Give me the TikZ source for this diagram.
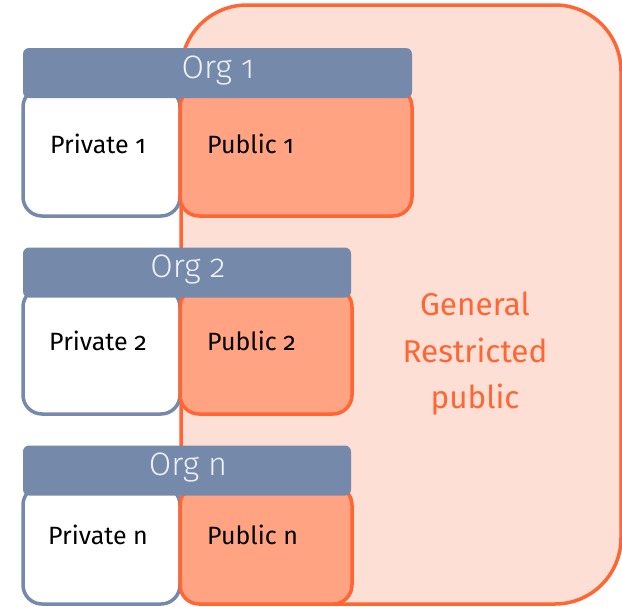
\documentclass[tikz,border=0pt]{standalone}
\usepackage{fontspec}
\setmainfont{Fira Sans}[Numbers=OldStyle]
\newfontfamily\orgfont{Fira Sans Light}[Numbers=OldStyle]
\definecolor{slate}{HTML}{7589AB}
\definecolor{orangeline}{HTML}{FF6633}
\definecolor{pubfill}{HTML}{FFA382}
\definecolor{bigfill}{HTML}{FDDFD5}
\definecolor{orgtext}{HTML}{EEF0F5}
\tikzset{
  box/.style={draw, line width=3.5pt, inner sep=0pt, outer sep=0pt, rounded corners=19pt},
  privbox/.style={box, draw=slate, fill=white, minimum width=157pt},
  pubbox/.style={box, draw=orangeline, fill=pubfill},
  header/.style={fill=slate, inner sep=0pt, outer sep=0pt, rounded corners=6pt, minimum height=50pt},
  lbl/.style={font=\fontsize{25}{30}\selectfont, text=black, inner sep=0pt},
  orglbl/.style={font=\orgfont\fontsize{32.5}{36}\selectfont, text=orgtext, inner sep=0pt},
  biglbl/.style={font=\fontsize{31.5}{46}\selectfont, text=orangeline, inner sep=0pt, align=center},
}
\begin{document}
\begin{tikzpicture}[x=1pt,y=-1pt]
\useasboundingbox (0,0) rectangle (622,606);
% general restricted public area
\node[draw=orangeline, fill=bigfill, line width=3.5pt, inner sep=0pt, rounded corners=66pt,
      minimum width=440pt, minimum height=599pt] (general) at (401,304.5) {};
% Org 1
\node[privbox, minimum height=128pt] (priv1) at (101.5,152) {};
\node[pubbox, minimum width=232pt, minimum height=128pt] (pub1) at (296,152) {};
\node[header, minimum width=389pt] (org1) at (217.5,73) {};
% Org 2
\node[privbox, minimum height=126pt] (priv2) at (101.5,351) {};
\node[pubbox, minimum width=172pt, minimum height=126pt] (pub2) at (266,351) {};
\node[header, minimum width=328pt] (org2) at (187,272.5) {};
% Org n
\node[privbox, minimum height=118pt] (privn) at (101.5,545) {};
\node[pubbox, minimum width=172pt, minimum height=118pt] (pubn) at (266,545) {};
\node[header, minimum width=328pt] (orgn) at (187,470.5) {};
% labels
\node[orglbl, anchor=base] (org1t) at (218,78) {Org 1};
\node[orglbl, anchor=base] (org2t) at (188,277) {Org 2};
\node[orglbl, anchor=base] (orgnt) at (188,475) {Org n};
\node[lbl, anchor=base] (priv1t) at (98,153) {Private 1};
\node[lbl, anchor=base] (priv2t) at (98,350) {Private 2};
\node[lbl, anchor=base] (privnt) at (98,544) {Private n};
\node[lbl, anchor=base west] (pub1t) at (207,153) {Public 1};
\node[lbl, anchor=base west] (pub2t) at (207,350) {Public 2};
\node[lbl, anchor=base west] (pubnt) at (207,544) {Public n};
\node[biglbl, anchor=base] (gen1) at (475,315) {General};
\node[biglbl, anchor=base] (gen2) at (475,362) {Restricted};
\node[biglbl, anchor=base] (gen3) at (475,408) {public};
\end{tikzpicture}
\end{document}
